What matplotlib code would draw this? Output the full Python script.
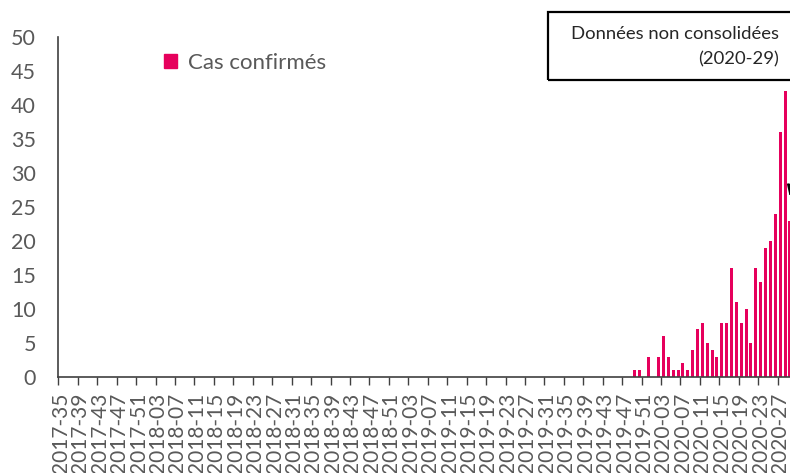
import matplotlib

matplotlib.use("Agg")
import matplotlib.pyplot as plt
from matplotlib.patches import Patch, Rectangle

plt.rcParams["font.family"] = ["Lato", "DejaVu Sans"]

# weekly categories from 2017-35 to 2020-29
weeks = [f"2017-{w:02d}" for w in range(35, 53)]
weeks += [f"2018-{w:02d}" for w in range(1, 53)]
weeks += [f"2019-{w:02d}" for w in range(1, 53)]
weeks += [f"2020-{w:02d}" for w in range(1, 30)]

# confirmed cases: none before 2019-49
cases_from_2019_49 = [1, 1, 0, 3,
                      0, 3, 6, 3, 1, 1, 2, 1, 4, 7, 8, 5, 4, 3, 8, 8,
                      16, 11, 8, 10, 5, 16, 14, 19, 20, 24, 36, 42, 23]
cases = [0] * (len(weeks) - len(cases_from_2019_49)) + cases_from_2019_49

BAR = "#E6005C"
GREY = "#595959"

fig = plt.figure(figsize=(7.9, 4.73), dpi=100)
W, H = 790, 473
ax = fig.add_axes([58.3 / W, 96 / H, 734 / W, 340 / H])

x = list(range(len(weeks)))
ax.bar(x, cases, width=0.62, color=BAR, label="Cas confirmés")

ax.set_xlim(-0.5, len(weeks) - 0.5)
ax.set_ylim(0, 50)
ax.set_yticks(range(0, 51, 5))
ax.tick_params(axis="y", length=0, pad=16, labelsize=15.5, labelcolor=GREY)

# tick marks at category boundaries, labels at category centres
ax.set_xticks([i - 0.5 for i in range(0, len(weeks), 4)])
ax.set_xticklabels([])
ax.tick_params(axis="x", which="major", length=6, width=1, color="#404040")
ax.set_xticks(list(range(0, len(weeks), 4)), minor=True)
ax.set_xticklabels(weeks[::4], minor=True, rotation=90, va="top", ha="center",
                   fontsize=15, color=GREY)
ax.tick_params(axis="x", which="minor", length=0, pad=11)

for s in ("top", "right"):
    ax.spines[s].set_visible(False)
ax.spines["left"].set_color("#404040")
ax.spines["bottom"].set_color("#404040")
ax.spines["left"].set_linewidth(1.2)
ax.spines["bottom"].set_linewidth(1.2)

ax.legend(handles=[Patch(color=BAR, label="Cas confirmés")], loc="upper left",
          bbox_to_anchor=(164 / W, 1 - 53 / H), bbox_transform=fig.transFigure,
          frameon=False, fontsize=16, handlelength=0.6, handleheight=0.6,
          handletextpad=0.5, borderpad=0, borderaxespad=0, labelcolor=GREY)

# note box (extends past the right edge)
fig.patches.append(Rectangle((548 / W, 1 - 80 / H), 300 / W, 68 / H,
                             transform=fig.transFigure, fill=False,
                             edgecolor="black", linewidth=1.6))
fig.text(779 / W, 1 - 34 / H, "Données non consolidées", ha="right", va="center",
         fontsize=13.3, color="#262626")
fig.text(779 / W, 1 - 59 / H, "(2020-29)", ha="right", va="center",
         fontsize=13.3, color="#262626")

ax.annotate("", xy=(789, H - 199), xycoords="figure pixels",
            xytext=(818, H - 82), textcoords="figure pixels",
            arrowprops=dict(arrowstyle="-|>", color="black", lw=1.5,
                            mutation_scale=16),
            annotation_clip=False)

fig.savefig("out.png", dpi=100)
